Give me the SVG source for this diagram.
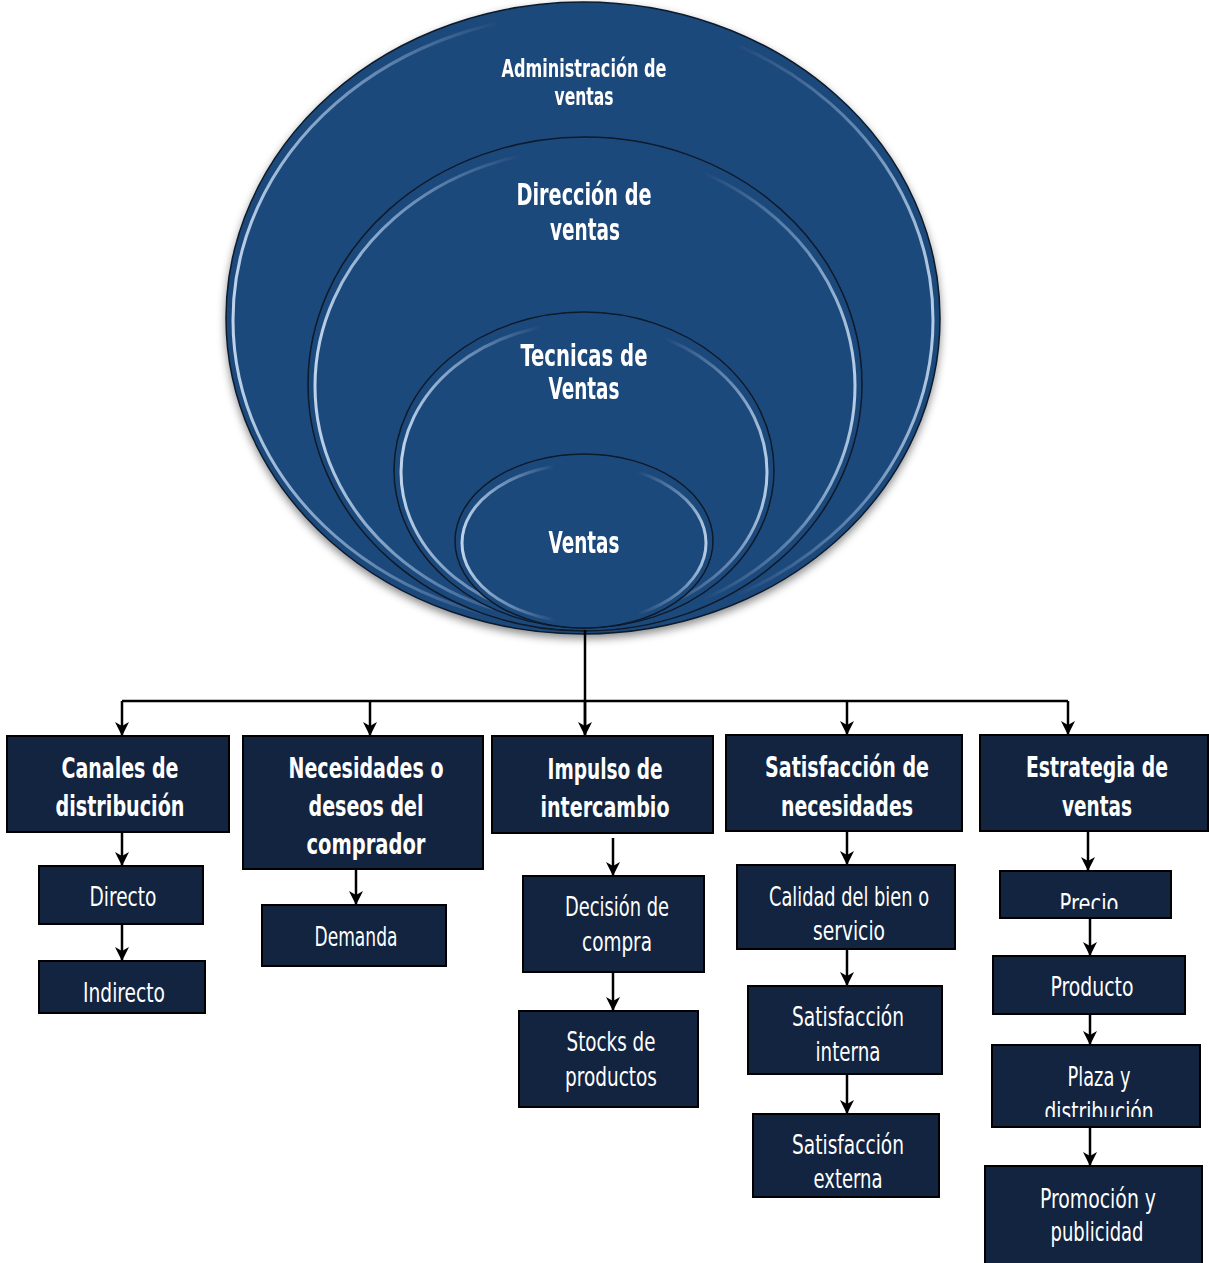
<svg xmlns="http://www.w3.org/2000/svg" width="1209" height="1263" viewBox="0 0 1209 1263">
<style>
.circ{fill:#1f497b;stroke:#0d1a2b;stroke-width:1.5}
.hl{fill:none;stroke:url(#hlg);stroke-width:3}
.box{fill:#12243f;stroke:#000;stroke-width:2}
.t{font-family:"Liberation Sans Narrow","DejaVu Sans Condensed","Roboto Condensed",sans-serif;font-stretch:condensed;fill:#fff;text-anchor:middle}
.tb{font-weight:bold;font-size:28px}
.tc{font-weight:bold}
.tr{font-size:27px}
.con{fill:none;stroke:#000;stroke-width:2.5}
</style>
<defs>
<linearGradient id="hlg" x1="0" y1="0" x2="1" y2="0">
<stop offset="0" stop-color="#cfe3f7" stop-opacity="0.9"/>
<stop offset="0.2" stop-color="#9fc0e3" stop-opacity="0.55"/>
<stop offset="0.38" stop-color="#9fc0e3" stop-opacity="0"/>
<stop offset="0.72" stop-color="#9fc0e3" stop-opacity="0"/>
<stop offset="0.9" stop-color="#9fc0e3" stop-opacity="0.55"/>
<stop offset="1" stop-color="#cfe3f7" stop-opacity="0.85"/>
</linearGradient>
<filter id="sh" x="-10%" y="-10%" width="120%" height="125%">
<feDropShadow dx="0" dy="4" stdDeviation="4" flood-color="#000" flood-opacity="0.45"/>
</filter>
<marker id="ar" markerUnits="userSpaceOnUse" markerWidth="14" markerHeight="14" refX="13" refY="7" orient="auto">
<path d="M0,0 L14,7 L0,14 L4,7 z" fill="#000"/>
</marker>
<clipPath id="cPrecio"><rect x="1000" y="871" width="171" height="38"/></clipPath>
<clipPath id="cPlaza"><rect x="992" y="1045" width="208" height="72"/></clipPath>
</defs>

<g id="circles" filter="url(#sh)">
<g id="n-admin">
<ellipse class="circ" cx="583" cy="318" rx="357" ry="316"/>
<ellipse class="hl" cx="583" cy="320" rx="350" ry="306"/>
<text class="t tc" font-size="25" x="584" y="77" textLength="165" lengthAdjust="spacingAndGlyphs">Administración de</text>
<text class="t tc" font-size="25" x="584" y="105" textLength="59" lengthAdjust="spacingAndGlyphs">ventas</text>
</g>
<g id="n-direccion">
<ellipse class="circ" cx="585" cy="384" rx="277" ry="247"/>
<ellipse class="hl" cx="585" cy="386" rx="270" ry="237"/>
<text class="t tc" font-size="31" x="584" y="205" textLength="135" lengthAdjust="spacingAndGlyphs">Dirección de</text>
<text class="t tc" font-size="31" x="585" y="240" textLength="70" lengthAdjust="spacingAndGlyphs">ventas</text>
</g>
<g id="n-tecnicas">
<ellipse class="circ" cx="584" cy="470" rx="190" ry="158"/>
<ellipse class="hl" cx="584" cy="472" rx="183" ry="149"/>
<text class="t tc" font-size="31" x="584" y="366" textLength="127" lengthAdjust="spacingAndGlyphs">Tecnicas de</text>
<text class="t tc" font-size="31" x="584" y="399" textLength="71" lengthAdjust="spacingAndGlyphs">Ventas</text>
</g>
<g id="n-ventas">
<ellipse class="circ" cx="584" cy="541" rx="129" ry="87"/>
<ellipse class="hl" cx="584" cy="543" rx="122" ry="79"/>
<text class="t tc" font-size="31" x="584" y="553" textLength="71" lengthAdjust="spacingAndGlyphs">Ventas</text>
</g>
</g>

<g id="connectors">
<path class="con" d="M585,630 V735"/>
<path class="con" d="M122,701 H1068"/>
<path class="con" d="M122,701 V735" marker-end="url(#ar)"/>
<path class="con" d="M370,701 V735" marker-end="url(#ar)"/>
<path class="con" d="M585,701 V735" marker-end="url(#ar)"/>
<path class="con" d="M847,701 V734" marker-end="url(#ar)"/>
<path class="con" d="M1068,701 V734" marker-end="url(#ar)"/>
<path class="con" d="M122,832 V865" marker-end="url(#ar)"/>
<path class="con" d="M122,924 V960" marker-end="url(#ar)"/>
<path class="con" d="M356,869 V904" marker-end="url(#ar)"/>
<path class="con" d="M613,838 V875" marker-end="url(#ar)"/>
<path class="con" d="M613,972 V1010" marker-end="url(#ar)"/>
<path class="con" d="M847,831 V864" marker-end="url(#ar)"/>
<path class="con" d="M847,949 V985" marker-end="url(#ar)"/>
<path class="con" d="M847,1074 V1113" marker-end="url(#ar)"/>
<path class="con" d="M1088,831 V870" marker-end="url(#ar)"/>
<path class="con" d="M1090,918 V955" marker-end="url(#ar)"/>
<path class="con" d="M1090,1014 V1044" marker-end="url(#ar)"/>
<path class="con" d="M1090,1127 V1165" marker-end="url(#ar)"/>
</g>

<g id="n-canales">
<rect class="box" x="7" y="736" width="222" height="96"/>
<text class="t tb" x="120" y="778" textLength="117" lengthAdjust="spacingAndGlyphs">Canales de</text>
<text class="t tb" x="120" y="816" textLength="129" lengthAdjust="spacingAndGlyphs">distribución</text>
</g>
<g id="n-necesidades">
<rect class="box" x="243" y="736" width="240" height="133"/>
<text class="t tb" x="366" y="778" textLength="155" lengthAdjust="spacingAndGlyphs">Necesidades o</text>
<text class="t tb" x="366" y="816" textLength="115" lengthAdjust="spacingAndGlyphs">deseos del</text>
<text class="t tb" x="366" y="854" textLength="119" lengthAdjust="spacingAndGlyphs">comprador</text>
</g>
<g id="n-impulso">
<rect class="box" x="492" y="736" width="221" height="97"/>
<text class="t tb" x="605" y="779" textLength="115" lengthAdjust="spacingAndGlyphs">Impulso de</text>
<text class="t tb" x="605" y="817" textLength="129" lengthAdjust="spacingAndGlyphs">intercambio</text>
</g>
<g id="n-satisfaccion">
<rect class="box" x="726" y="735" width="236" height="96"/>
<text class="t tb" x="847" y="777" textLength="164" lengthAdjust="spacingAndGlyphs">Satisfacción de</text>
<text class="t tb" x="847" y="816" textLength="132" lengthAdjust="spacingAndGlyphs">necesidades</text>
</g>
<g id="n-estrategia">
<rect class="box" x="980" y="735" width="228" height="96"/>
<text class="t tb" font-size="26" x="1097" y="777" textLength="142" lengthAdjust="spacingAndGlyphs">Estrategia de</text>
<text class="t tb" x="1097" y="816" textLength="70" lengthAdjust="spacingAndGlyphs">ventas</text>
</g>

<g id="n-directo">
<rect class="box" x="39" y="866" width="164" height="58"/>
<text class="t tr" x="123" y="906" textLength="67" lengthAdjust="spacingAndGlyphs">Directo</text>
</g>
<g id="n-indirecto">
<rect class="box" x="39" y="961" width="166" height="52"/>
<text class="t tr" x="124" y="1002" textLength="82" lengthAdjust="spacingAndGlyphs">Indirecto</text>
</g>
<g id="n-demanda">
<rect class="box" x="262" y="905" width="184" height="61"/>
<text class="t tr" x="356" y="946" textLength="83" lengthAdjust="spacingAndGlyphs">Demanda</text>
</g>
<g id="n-decision">
<rect class="box" x="523" y="876" width="181" height="96"/>
<text class="t tr" x="617" y="916" textLength="104" lengthAdjust="spacingAndGlyphs">Decisión de</text>
<text class="t tr" x="617" y="951" textLength="70" lengthAdjust="spacingAndGlyphs">compra</text>
</g>
<g id="n-stocks">
<rect class="box" x="519" y="1011" width="179" height="96"/>
<text class="t tr" x="611" y="1051" textLength="89" lengthAdjust="spacingAndGlyphs">Stocks de</text>
<text class="t tr" x="611" y="1086" textLength="92" lengthAdjust="spacingAndGlyphs">productos</text>
</g>
<g id="n-calidad">
<rect class="box" x="737" y="865" width="218" height="84"/>
<text class="t tr" x="849" y="906" textLength="160" lengthAdjust="spacingAndGlyphs">Calidad del bien o</text>
<text class="t tr" x="849" y="940" textLength="72" lengthAdjust="spacingAndGlyphs">servicio</text>
</g>
<g id="n-interna">
<rect class="box" x="748" y="986" width="194" height="88"/>
<text class="t tr" x="848" y="1026" textLength="112" lengthAdjust="spacingAndGlyphs">Satisfacción</text>
<text class="t tr" x="848" y="1061" textLength="65" lengthAdjust="spacingAndGlyphs">interna</text>
</g>
<g id="n-externa">
<rect class="box" x="753" y="1114" width="186" height="83"/>
<text class="t tr" x="848" y="1154" textLength="112" lengthAdjust="spacingAndGlyphs">Satisfacción</text>
<text class="t tr" x="848" y="1188" textLength="69" lengthAdjust="spacingAndGlyphs">externa</text>
</g>
<g id="n-precio">
<rect class="box" x="1000" y="871" width="171" height="47"/>
<text class="t tr" x="1089" y="913" clip-path="url(#cPrecio)" textLength="59" lengthAdjust="spacingAndGlyphs">Precio</text>
</g>
<g id="n-producto">
<rect class="box" x="993" y="956" width="192" height="58"/>
<text class="t tr" x="1092" y="996" textLength="83" lengthAdjust="spacingAndGlyphs">Producto</text>
</g>
<g id="n-plaza">
<rect class="box" x="992" y="1045" width="208" height="82"/>
<text class="t tr" x="1099" y="1086" textLength="63" lengthAdjust="spacingAndGlyphs">Plaza y</text>
<text class="t tr" x="1099" y="1121" clip-path="url(#cPlaza)" textLength="109" lengthAdjust="spacingAndGlyphs">distribución</text>
</g>
<g id="n-promocion">
<rect class="box" x="985" y="1166" width="217" height="100"/>
<text class="t tr" x="1098" y="1208" textLength="116" lengthAdjust="spacingAndGlyphs">Promoción y</text>
<text class="t tr" x="1097" y="1241" textLength="93" lengthAdjust="spacingAndGlyphs">publicidad</text>
</g>
</svg>
